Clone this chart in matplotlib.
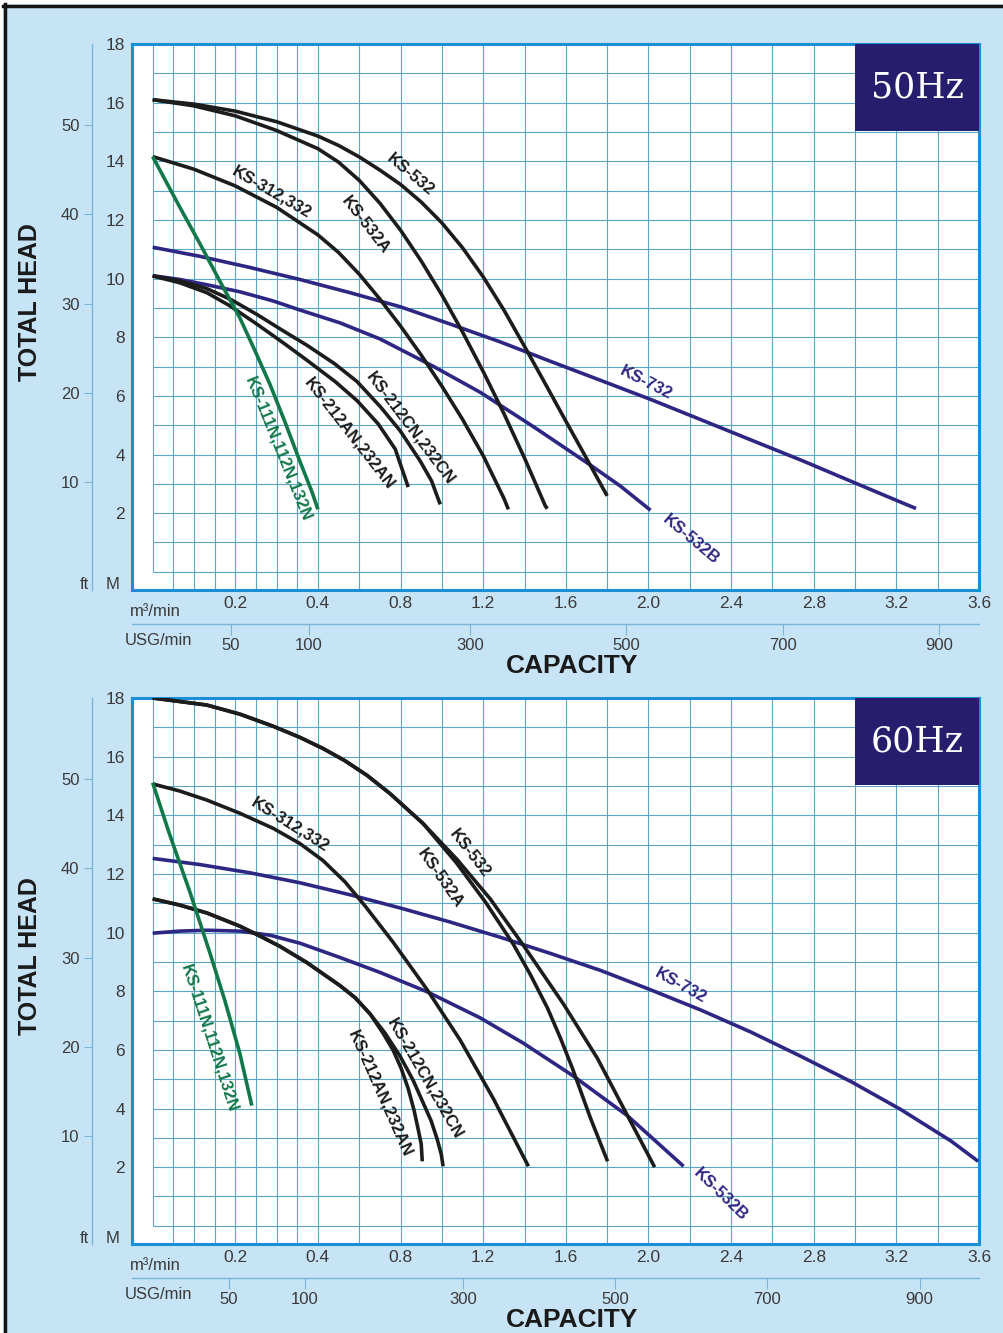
import numpy as np
import matplotlib
matplotlib.use("Agg")
import matplotlib.pyplot as plt
from matplotlib.patches import Rectangle

plt.rcParams["font.family"] = ["Liberation Sans", "DejaVu Sans"]

# ---------- 50Hz curves: capacity (m3/min) / total head (m) ----------
q50_532 = [0, 0.1, 0.2, 0.3, 0.4, 0.5, 0.6, 0.7, 0.8, 0.9, 1.0, 1.1, 1.2, 1.3, 1.4, 1.5, 1.6, 1.7, 1.8]
h50_532 = [16.1, 15.95, 15.71, 15.35, 14.86, 14.54, 14.15, 13.7, 13.21, 12.61, 11.9, 11.05, 10.06,
           8.93, 7.69, 6.42, 5.14, 3.87, 2.59]
q50_532a = [0, 0.1, 0.2, 0.3, 0.4, 0.5, 0.6, 0.7, 0.8, 0.9, 1.0, 1.1, 1.2, 1.3, 1.4, 1.5, 1.51]
h50_532a = [16.1, 15.89, 15.55, 15.05, 14.43, 13.97, 13.35, 12.57, 11.65, 10.6, 9.44, 8.18, 6.83,
            5.4, 3.88, 2.26, 2.15]
q50_312 = [0, 0.1, 0.2, 0.3, 0.4, 0.5, 0.6, 0.7, 0.8, 0.9, 1.0, 1.1, 1.2, 1.3, 1.322]
h50_312 = [14.16, 13.73, 13.16, 12.43, 11.49, 10.89, 10.15, 9.3, 8.38, 7.39, 6.33, 5.2, 3.96, 2.51, 2.13]
q50_212cn = [0, 0.065, 0.131, 0.19, 0.252, 0.31, 0.373, 0.48, 0.589, 0.701, 0.798, 0.895, 0.95, 0.992]
h50_212cn = [10.09, 9.93, 9.66, 9.28, 8.78, 8.27, 7.73, 7.1, 6.49, 5.64, 4.81, 3.78, 3.1, 2.3]
q50_212an = [0, 0.065, 0.131, 0.187, 0.252, 0.32, 0.373, 0.483, 0.589, 0.691, 0.774, 0.837]
h50_212an = [10.09, 9.86, 9.52, 9.07, 8.45, 7.77, 7.22, 6.49, 5.84, 5.05, 4.19, 2.89]
q50_111 = [0, 0.0655, 0.114, 0.162, 0.211, 0.247, 0.284, 0.32, 0.356, 0.386, 0.40]
h50_111 = [14.16, 12.44, 11.2, 9.93, 8.66, 7.56, 6.39, 5.12, 3.78, 2.71, 2.13]
q50_732 = [0, 0.114, 0.235, 0.356, 0.555, 0.798, 1.04, 1.283, 1.525, 1.768, 2.01, 2.253, 2.495,
           2.738, 2.98, 3.223, 3.295]
h50_732 = [11.07, 10.76, 10.38, 9.97, 9.52, 9.04, 8.45, 7.84, 7.18, 6.53, 5.88, 5.19, 4.5,
           3.81, 3.09, 2.37, 2.16]
q50_532b = [0, 0.0655, 0.131, 0.211, 0.291, 0.356, 0.507, 0.701, 0.958, 1.186, 1.443, 1.719, 1.865, 2.01]
h50_532b = [10.1, 9.97, 9.79, 9.55, 9.24, 8.93, 8.49, 7.94, 7.01, 6.12, 4.95, 3.64, 2.92, 2.1]

# ---------- 60Hz curves ----------
q60_532 = [0, 0.131, 0.211, 0.291, 0.356, 0.424, 0.531, 0.638, 0.749, 0.909, 1.074, 1.234, 1.394,
           1.588, 1.753, 1.899, 2.03]
h60_532 = [18.0, 17.76, 17.45, 17.04, 16.66, 16.28, 15.86, 15.36, 14.74, 13.72, 12.49, 11.15, 9.57,
           7.57, 5.71, 3.75, 2.0]
q60_532a = [0, 0.131, 0.211, 0.291, 0.356, 0.424, 0.531, 0.638, 0.749, 0.909, 1.069, 1.21, 1.346,
            1.428, 1.511, 1.574, 1.632, 1.719, 1.802]
h60_532a = [18.0, 17.76, 17.45, 17.04, 16.66, 16.28, 15.86, 15.36, 14.74, 13.72, 12.39, 11.05, 9.6,
            8.57, 7.43, 6.4, 5.37, 3.68, 2.2]
q60_312 = [0, 0.065, 0.131, 0.211, 0.291, 0.356, 0.424, 0.531, 0.628, 0.764, 0.929, 1.089, 1.249, 1.419]
h60_312 = [15.07, 14.83, 14.52, 14.07, 13.56, 13.04, 12.46, 11.73, 10.91, 9.67, 8.05, 6.33, 4.34, 2.03]
q60_212cn = [0, 0.065, 0.131, 0.211, 0.26, 0.308, 0.373, 0.507, 0.58, 0.652, 0.725, 0.798, 0.861,
             0.909, 0.948, 0.977, 0.997, 1.006]
h60_212cn = [11.15, 10.94, 10.67, 10.22, 9.88, 9.53, 8.98, 8.19, 7.78, 7.23, 6.57, 5.78, 4.96,
             4.2, 3.58, 2.96, 2.44, 2.03]
q60_212an = [0, 0.065, 0.131, 0.211, 0.26, 0.308, 0.373, 0.507, 0.58, 0.652, 0.715, 0.764, 0.803,
             0.837, 0.866, 0.885, 0.9, 0.905]
h60_212an = [11.15, 10.94, 10.67, 10.22, 9.88, 9.53, 8.98, 8.19, 7.78, 7.23, 6.57, 5.99, 5.37,
             4.68, 3.92, 3.3, 2.79, 2.2]
q60_111 = [0, 0.041, 0.09, 0.138, 0.175, 0.211, 0.24]
h60_111 = [15.11, 13.35, 11.39, 9.33, 7.67, 5.88, 4.1]
q60_732 = [0, 0.114, 0.235, 0.356, 0.555, 0.798, 1.04, 1.283, 1.525, 1.768, 2.01, 2.253, 2.495,
           2.738, 2.98, 3.223, 3.465, 3.596]
h60_732 = [12.53, 12.32, 12.04, 11.7, 11.29, 10.84, 10.36, 9.84, 9.29, 8.71, 8.05, 7.36, 6.61,
           5.78, 4.92, 3.96, 2.89, 2.2]
q60_532b = [0, 0.065, 0.131, 0.211, 0.284, 0.356, 0.507, 0.701, 0.929, 1.186, 1.394, 1.632, 1.899, 2.17]
h60_532b = [9.98, 10.05, 10.08, 10.05, 9.91, 9.64, 9.15, 8.64, 7.98, 7.09, 6.23, 5.13, 3.75, 2.03]

# axis values
head_ticks = list(range(2, 19, 2))
ft_ticks = [10, 20, 30, 40, 50]
cap_ticks = [0.2, 0.4, 0.8, 1.2, 1.6, 2.0, 2.4, 2.8, 3.2, 3.6]
cap_labels = ["0.2", "0.4", "0.8", "1.2", "1.6", "2.0", "2.4", "2.8", "3.2", "3.6"]
usg_ticks = [50, 100, 300, 500, 700, 900]

BLACK = "#1c1c1c"
NAVY = "#2d2783"
GREEN = "#12784a"
GRID = "#5aa6c4"
FRAME = "#1b8fd6"
BG = "#c7e4f6"
TXT = "#3a3a3a"

curves50 = [
    (q50_732, h50_732, NAVY), (q50_532b, h50_532b, NAVY),
    (q50_532, h50_532, BLACK), (q50_532a, h50_532a, BLACK), (q50_312, h50_312, BLACK),
    (q50_212cn, h50_212cn, BLACK), (q50_212an, h50_212an, BLACK),
    (q50_111, h50_111, GREEN),
]
curves60 = [
    (q60_732, h60_732, NAVY), (q60_532b, h60_532b, NAVY),
    (q60_532, h60_532, BLACK), (q60_532a, h60_532a, BLACK), (q60_312, h60_312, BLACK),
    (q60_212cn, h60_212cn, BLACK), (q60_212an, h60_212an, BLACK),
    (q60_111, h60_111, GREEN),
]
# label text, (q, h) anchor, rotation, colour
labels50 = [
    ("KS-532", 0.846, 13.54, -40, BLACK), ("KS-312,332", 0.289, 12.96, -30, BLACK),
    ("KS-532A", 0.628, 11.82, -52, BLACK), ("KS-212CN,232CN", 0.846, 4.88, -53, BLACK),
    ("KS-212AN,232AN", 0.555, 4.71, -52, BLACK), ("KS-111N,112N,132N", 0.303, 4.19, -68, GREEN),
    ("KS-732", 1.986, 6.43, -27, NAVY), ("KS-532B", 2.204, 1.1, -40, NAVY),
]
labels60 = [
    ("KS-312,332", 0.332, 13.7, -32, BLACK), ("KS-532", 1.137, 12.7, -52, BLACK),
    ("KS-532A", 0.992, 11.84, -55, BLACK), ("KS-212CN,232CN", 0.919, 5.02, -60, BLACK),
    ("KS-212AN,232AN", 0.701, 4.5, -66, BLACK), ("KS-111N,112N,132N", 0.138, 6.4, -72, GREEN),
    ("KS-732", 2.156, 8.19, -29, NAVY), ("KS-532B", 2.35, 1.07, -44, NAVY),
]


# capacity axis: first 0.4 m3/min drawn at double width
def fwd(q):
    q = np.asarray(q, float)
    return np.where(q <= 0.4, 2 * q, q + 0.4)


def inv(u):
    u = np.asarray(u, float)
    return np.where(u <= 0.8, u / 2, u - 0.4)


W, H = 1004, 1333
fig = plt.figure(figsize=(W / 100, H / 100), dpi=100)
fig.patch.set_facecolor(BG)

grid_q = list(np.arange(0, 0.41, 0.05)) + list(np.arange(0.6, 3.61, 0.2))


def panel(top_px, curves, labels, hz, usg_k):
    x0, x1 = 132, 979
    bot_px = top_px + 546
    rect = [x0 / W, 1 - bot_px / H, (x1 - x0) / W, 546 / H]
    ax = fig.add_axes(rect)
    ax.set_xscale("function", functions=(fwd, inv))
    ax.set_xlim(-0.05, 3.6)
    ax.set_ylim(-0.62, 18)
    for s in ax.spines.values():
        s.set_color(FRAME)
        s.set_linewidth(2.2)

    ax.vlines(grid_q, 0, 18, color=GRID, lw=0.8, zorder=1)
    ax.vlines([g for g in grid_q if g > 0.01], -0.62, 0, color=GRID, lw=0.8, zorder=1)
    ax.hlines(np.arange(0, 19), 0, 3.6, color=GRID, lw=0.8, zorder=1)

    for q, h, c in curves:
        ax.plot(q, h, color=c, lw=2.6, solid_capstyle="butt", solid_joinstyle="round", zorder=3)
    for t, q, h, r, c in labels:
        ax.text(q, h, t, color=c, fontsize=12, fontweight="bold", rotation=r,
                rotation_mode="anchor", ha="center", va="center", zorder=4)

    ax.set_xticks(cap_ticks)
    ax.set_xticklabels(cap_labels)
    ax.set_yticks(head_ticks)
    ax.tick_params(length=0, labelsize=12.5, labelcolor=TXT)
    ax.tick_params(axis="x", pad=4)
    ax.tick_params(axis="y", pad=5)

    sec = ax.secondary_yaxis(-0.0472, functions=(lambda m: m * 3.2808, lambda f: f / 3.2808))
    sec.set_yticks(ft_ticks)
    sec.spines["left"].set_color("#7ab4d8")
    sec.spines["left"].set_linewidth(1)
    sec.tick_params(length=6, width=0.8, color="#7ab4d8", labelsize=12, labelcolor=TXT, pad=3)

    ax.add_patch(Rectangle((0.8536, 0.841), 0.1464, 0.159, transform=ax.transAxes,
                           facecolor="#261d6d", edgecolor="none", zorder=5))
    ax.text(0.927, 0.92, hz, transform=ax.transAxes, ha="center", va="center",
            color="white", fontsize=25, family="DejaVu Serif", zorder=6)

    ax.text(-0.0567, 0.01, "ft", transform=ax.transAxes, ha="center", va="center",
            fontsize=12, color=TXT)
    ax.text(-0.0224, 0.01, "M", transform=ax.transAxes, ha="center", va="center",
            fontsize=12, color=TXT)
    ax.text(-0.12, 0.527, "TOTAL HEAD", transform=ax.transAxes, rotation=90,
            ha="center", va="center", fontsize=18, fontweight="bold", color="#1a1a1a")
    ax.text(0.5195, -0.139, "CAPACITY", transform=ax.transAxes, ha="center",
            va="center", fontsize=19, fontweight="bold", color="#1a1a1a")
    ax.text(-0.003, -0.040, "m³/min", transform=ax.transAxes, ha="left",
            va="center", fontsize=12, color=TXT)
    ax.text(-0.008, -0.0916, "USG/min", transform=ax.transAxes, ha="left",
            va="center", fontsize=12, color=TXT)

    # US gallon scale
    yu = rect[1] - 0.062 * rect[3]
    axu = fig.add_axes([rect[0], yu, rect[2], 1e-5])
    axu.set_xscale("function", functions=(fwd, inv))
    axu.set_xlim(-0.05, 3.6)
    axu.patch.set_visible(False)
    for k in ("top", "left", "right"):
        axu.spines[k].set_visible(False)
    axu.spines["bottom"].set_color("#7ab4d8")
    axu.spines["bottom"].set_linewidth(1)
    axu.set_yticks([])
    axu.set_xticks([u * usg_k for u in usg_ticks])
    axu.set_xticklabels([str(u) for u in usg_ticks])
    axu.tick_params(axis="x", length=8, width=0.8, color="#7ab4d8", labelsize=12,
                    labelcolor=TXT, pad=2)
    return ax


panel(44, curves50, labels50, "50Hz", 0.003785)
panel(698, curves60, labels60, "60Hz", 0.00368)

# dark edge of the scanned page
fig.add_artist(Rectangle((0, 1 - 4 / H), 1, 4 / H, transform=fig.transFigure,
                         facecolor="white", edgecolor="none"))
fig.add_artist(Rectangle((0, 0), 3 / W, 1, transform=fig.transFigure,
                         facecolor="white", edgecolor="none"))
fig.add_artist(plt.Line2D([3 / W, 1], [1 - 5.5 / H] * 2, transform=fig.transFigure,
                          color="#151515", lw=2.5))
fig.add_artist(plt.Line2D([4.5 / W] * 2, [0, 1 - 4 / H], transform=fig.transFigure,
                          color="#151515", lw=2.5))

fig.savefig("out.png", dpi=100, facecolor=BG)
